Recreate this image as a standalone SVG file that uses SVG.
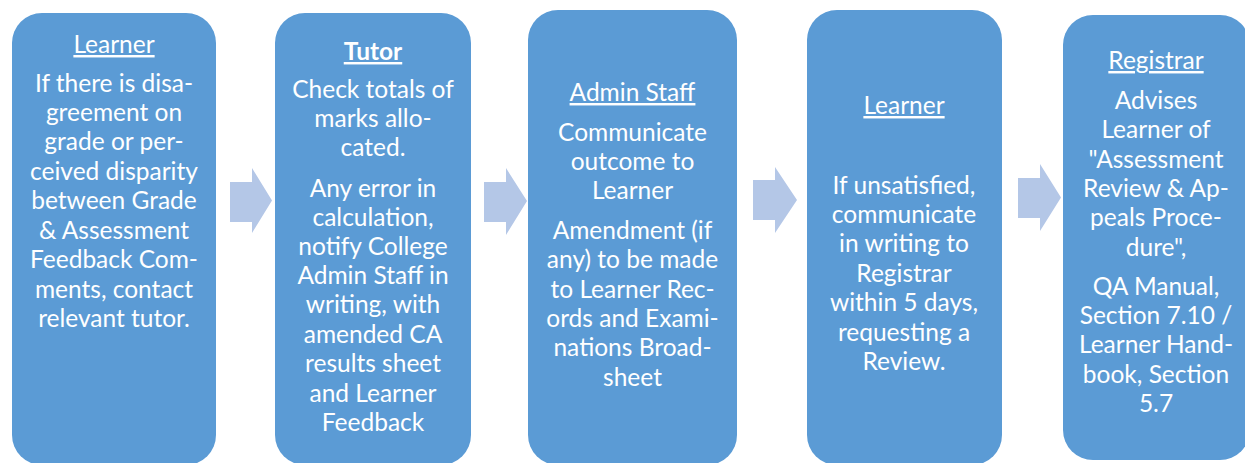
<svg xmlns="http://www.w3.org/2000/svg" width="1245" height="463" viewBox="0 0 1245 463">
<style>
.box{fill:#5B9BD5;}
.arr{fill:#B4C7E7;}
text{font-family:Lato,"Open Sans","Liberation Sans",sans-serif;font-size:24.5px;fill:#FFFFFF;text-anchor:middle;}
.t{text-decoration:underline;}
.b{font-weight:bold;}
</style>
<rect width="1245" height="463" fill="#FFFFFF"/>
<g id="connectors">
<polygon class="arr" points="230,182 252,182 252,168 272,200.5 252,233 252,222 230,222"/>
<polygon class="arr" points="484,182 506,182 506,168 527,201 506,235 506,222 484,222"/>
<polygon class="arr" points="753,180 775,180 775,167 797,200 775,233 775,220 753,220"/>
<polygon class="arr" points="1018,178 1040,178 1040,164 1061,197.5 1040,231 1040,218 1018,218"/>
</g>
<g id="node1">
<rect class="box" x="12" y="13" width="204" height="452" rx="30"/>
<text class="t" x="114" y="53">Learner</text>
<text x="114" y="92">If there is disa-</text>
<text x="114" y="121">greement on</text>
<text x="114" y="150">grade or per-</text>
<text x="114" y="180">ceived disparity</text>
<text x="114" y="209">between Grade</text>
<text x="114" y="239">&amp; Assessment</text>
<text x="114" y="268">Feedback Com-</text>
<text x="114" y="298">ments, contact</text>
<text x="114" y="327">relevant tutor.</text>
</g>
<g id="node2">
<rect class="box" x="275" y="13" width="196" height="452" rx="30"/>
<text class="t b" x="373" y="60">Tutor</text>
<text x="373" y="98">Check totals of</text>
<text x="373" y="127">marks allo-</text>
<text x="373" y="156">cated.</text>
<text x="373" y="197">Any error in</text>
<text x="373" y="226">calculation,</text>
<text x="373" y="255">notify College</text>
<text x="373" y="284">Admin Staff in</text>
<text x="373" y="313">writing, with</text>
<text x="373" y="343">amended CA</text>
<text x="373" y="372">results sheet</text>
<text x="373" y="402">and Learner</text>
<text x="373" y="431">Feedback</text>
</g>
<g id="node3">
<rect class="box" x="528" y="10" width="209" height="455" rx="30"/>
<text class="t" x="632.5" y="101">Admin Staff</text>
<text x="632.5" y="141">Communicate</text>
<text x="632.5" y="170">outcome to</text>
<text x="632.5" y="199">Learner</text>
<text x="632.5" y="239">Amendment (if</text>
<text x="632.5" y="268">any) to be made</text>
<text x="632.5" y="298">to Learner Rec-</text>
<text x="632.5" y="327">ords and Exami-</text>
<text x="632.5" y="356">nations Broad-</text>
<text x="632.5" y="386">sheet</text>
</g>
<g id="node4">
<rect class="box" x="807" y="10" width="195" height="455" rx="30"/>
<text class="t" x="904" y="114">Learner</text>
<text x="904" y="194">If unsatisfied,</text>
<text x="904" y="223">communicate</text>
<text x="904" y="252">in writing to</text>
<text x="904" y="282">Registrar</text>
<text x="904" y="311">within 5 days,</text>
<text x="904" y="341">requesting a</text>
<text x="904" y="370">Review.</text>
</g>
<g id="node5">
<rect class="box" x="1063" y="15" width="187" height="445" rx="30"/>
<text class="t" x="1156" y="69">Registrar</text>
<text x="1156" y="109">Advises</text>
<text x="1156" y="138">Learner of</text>
<text x="1156" y="168">"Assessment</text>
<text x="1156" y="197">Review &amp; Ap-</text>
<text x="1156" y="226">peals Proce-</text>
<text x="1156" y="256">dure",</text>
<text x="1156" y="295">QA Manual,</text>
<text x="1156" y="324">Section 7.10 /</text>
<text x="1156" y="353">Learner Hand-</text>
<text x="1156" y="383">book, Section</text>
<text x="1156" y="412">5.7</text>
</g>
</svg>
